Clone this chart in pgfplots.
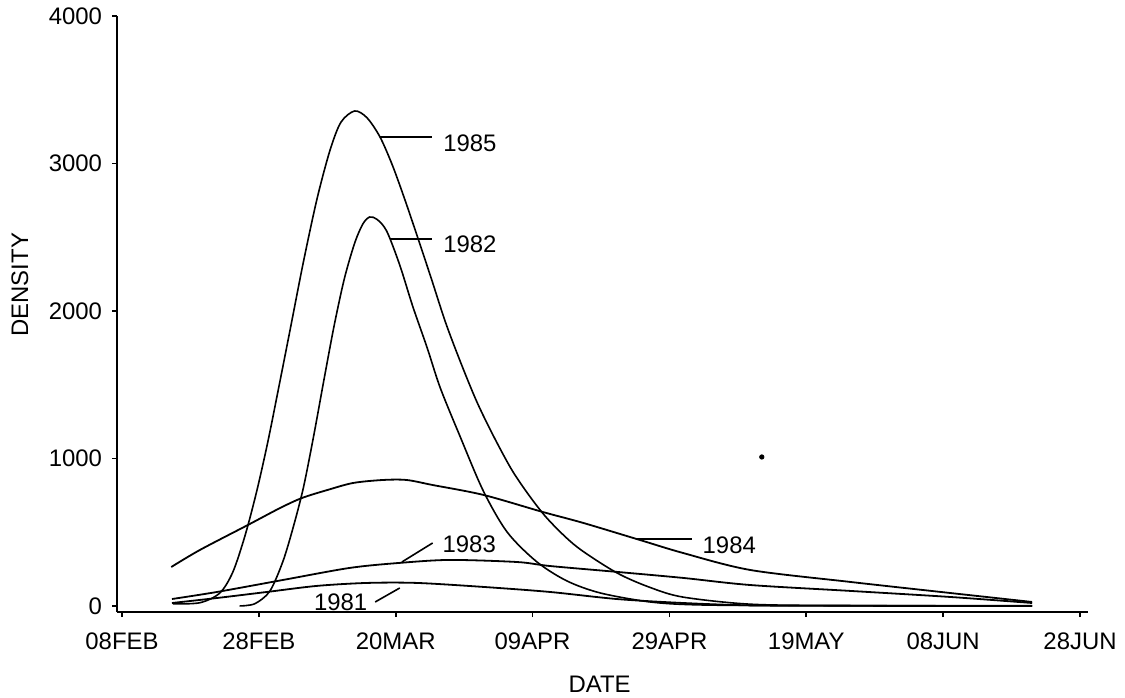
\documentclass[border=0pt]{standalone}
\usepackage{fontspec}
\setmainfont{Liberation Sans}
\usepackage{pgfplots}
\pgfplotsset{compat=1.18}
\newcommand{\f}{\fontsize{12}{14}\selectfont}
\begin{document}
\begin{tikzpicture}
\useasboundingbox (-58.5bp,-43bp) rectangle (504bp,306bp);
\begin{axis}[
  at={(0,0)}, anchor=south west,
  scale only axis, width=485.5bp, height=298bp,
  xmin=-0.73, xmax=141.17, ymin=-41, ymax=4000,
  axis x line=bottom, axis y line=left,
  axis line style={-, line width=1bp},
  xtick={0,20,40,60,80,100,120,140},
  xticklabels={08FEB,28FEB,20MAR,09APR,29APR,19MAY,08JUN,28JUN},
  ytick={0,1000,2000,3000,4000},
  tick align=outside, major tick length=2.5bp,
  tick style={line width=0.8bp, black},
  /pgf/number format/assume math mode=true,
  /pgf/number format/1000 sep={},
  tick label style={font=\f},
  xticklabel style={yshift=-4.5bp},
  yticklabel style={xshift=-1.5bp},
  xlabel={DATE}, ylabel={DENSITY},
  label style={font=\f},
  xlabel style={at={(axis description cs:0.497,-0.121)}, anchor=center},
  ylabel style={at={(axis description cs:-0.0999,0.549)}, anchor=center},
  clip=false,
]
% 1985
\addplot[black, line width=0.8bp, smooth] coordinates {
(7.45,14) (11.4,22) (14.3,88) (16.2,230) (18.0,480) (19.7,780) (21.3,1110)
(22.9,1480) (24.6,1880) (26.5,2330) (28.5,2760) (30.4,3090) (32.0,3280)
(34.0,3356) (35.8,3310) (37.7,3180) (39.5,2990) (41.3,2760) (43.2,2500)
(45.2,2220) (47.3,1920) (49.5,1650) (51.8,1390) (54.2,1160) (57.0,920)
(59.8,730) (62.5,575) (66.5,400) (72.3,225) (77.2,125) (82.0,60) (91.8,12)
(105,3) (133.0,2)};
% 1982
\addplot[black, line width=0.8bp, smooth] coordinates {
(17.2,0) (19.4,15) (21.6,100) (23.5,300) (25.0,530) (26.5,800) (28.0,1150)
(29.5,1530) (31.0,1900) (32.5,2220) (34.0,2460) (35.2,2590) (36.2,2637)
(37.3,2620) (38.7,2540) (40.6,2310) (42.5,2030) (44.6,1750) (46.5,1480)
(49.4,1150) (52.8,780) (56.3,500) (60.6,300) (65.0,170) (69.9,88) (77.2,27)
(84.5,7) (100,2) (133.0,0)};
% 1984
\addplot[black, line width=0.9bp, smooth] coordinates {
(7.2,264) (11.4,380) (18.4,549) (23.1,664) (26.3,732) (30.0,786) (33.8,834)
(38.1,854) (41.6,854) (45.4,820) (52.8,753) (61.5,637) (67.4,563) (75.7,447)
(82.0,359) (91.8,244) (106.4,163) (121.0,88) (133.0,27)};
% 1983
\addplot[black, line width=0.9bp, smooth] coordinates {
(7.3,47) (13.9,95) (23.5,176) (33.3,258) (40.6,292) (47.9,312) (57.7,298)
(62.5,271) (72.3,231) (82.0,190) (91.8,142) (106.4,102) (121.0,61) (133.0,20)};
% 1981
\addplot[black, line width=0.9bp, smooth] coordinates {
(7.3,20) (13.9,54) (21.2,95) (28.5,136) (35.8,156) (43.1,156) (52.8,129)
(62.5,95) (72.3,47) (82.0,20) (91.8,4) (105,1) (133.0,0)};
% stray dot
\addplot[only marks, mark=*, mark size=1.1bp, black] coordinates {(93.5,1010)};
% annotations
\draw[line width=1bp] (axis cs:37.7,3180) -- (axis cs:45.3,3180);
\node[anchor=west, inner sep=0pt, font=\f] at (axis cs:46.9,3139) {1985};
\draw[line width=1bp] (axis cs:39.2,2488) -- (axis cs:45.3,2488);
\node[anchor=west, inner sep=0pt, font=\f] at (axis cs:46.9,2454) {1982};
\draw[line width=1bp] (axis cs:75.3,454) -- (axis cs:83.3,454);
\node[anchor=west, inner sep=0pt, font=\f] at (axis cs:84.8,414) {1984};
\draw[line width=0.8bp] (axis cs:40.9,298) -- (axis cs:45.4,427);
\node[anchor=west, inner sep=0pt, font=\f] at (axis cs:46.8,420) {1983};
\draw[line width=0.8bp] (axis cs:37.0,27) -- (axis cs:40.6,122);
\node[anchor=east, inner sep=0pt, font=\f] at (axis cs:35.9,27) {1981};
\end{axis}
\end{tikzpicture}
\end{document}
